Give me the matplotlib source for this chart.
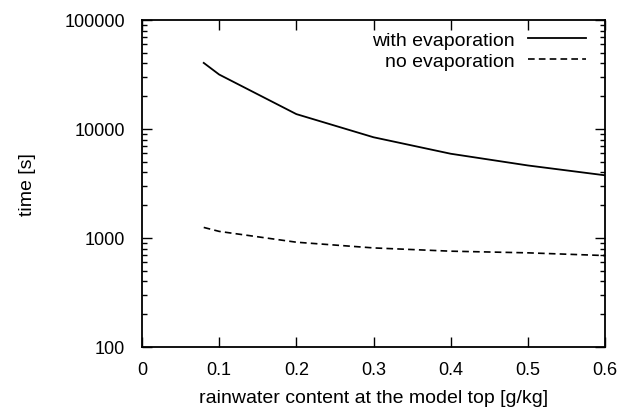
import matplotlib
matplotlib.use("Agg")
import matplotlib.pyplot as plt
from matplotlib.ticker import LogLocator, NullFormatter, FixedLocator

plt.rcParams['font.family'] = ['Liberation Sans', 'DejaVu Sans']

# rainwater content at the model top [g/kg]
rain_content = [0.08, 0.1, 0.2, 0.3, 0.4, 0.5, 0.6]
# time [s]
time_with_evap = [40400, 31600, 13700, 8400, 5930, 4630, 3760]
time_no_evap = [1250, 1150, 915, 811, 757, 731, 690]

x_ticks = [0, 0.1, 0.2, 0.3, 0.4, 0.5, 0.6]
x_tick_labels = ['0', '0.1', '0.2', '0.3', '0.4', '0.5', '0.6']
y_ticks = [100, 1000, 10000, 100000]
y_tick_labels = ['100', '1000', '10000', '100000']

fig = plt.figure(figsize=(6.23, 4.10), dpi=100)
ax = fig.add_axes([142 / 623, 1 - 348 / 410, (605 - 142) / 623, (348 - 21) / 410])

ax.plot(rain_content, time_with_evap, color='black', lw=1.3, label='with evaporation')
ax.plot(rain_content, time_no_evap, color='black', lw=1.2, dashes=(4, 2.5),
        label='no evaporation')

ax.set_yscale('log')
ax.set_xlim(0, 0.6)
ax.set_ylim(100, 100000)

ax.xaxis.set_major_locator(FixedLocator(x_ticks))
ax.set_xticklabels(x_tick_labels)
ax.yaxis.set_major_locator(FixedLocator(y_ticks))
ax.set_yticklabels(y_tick_labels)
ax.yaxis.set_minor_locator(LogLocator(base=10, subs=range(2, 10)))
ax.yaxis.set_minor_formatter(NullFormatter())

ax.tick_params(which='both', direction='in', top=True, right=True,
               labelsize=13, width=1.0, color='black')
ax.tick_params(which='major', length=7)
ax.tick_params(which='minor', length=3.5)
ax.tick_params(axis='x', pad=10)
ax.tick_params(axis='y', pad=12)

for s in ax.spines.values():
    s.set_linewidth(1.3)

ax.set_xlabel('rainwater content at the model top [g/kg]', fontsize=14, labelpad=8)
ax.set_ylabel('time [s]', fontsize=14, labelpad=21)

ax.legend(loc='upper right', frameon=False, markerfirst=False, fontsize=14,
          handlelength=3.0, handletextpad=0.7, labelspacing=0.15,
          borderaxespad=0.2, bbox_to_anchor=(0.985, 1.0))

fig.savefig('out.png', dpi=100)
